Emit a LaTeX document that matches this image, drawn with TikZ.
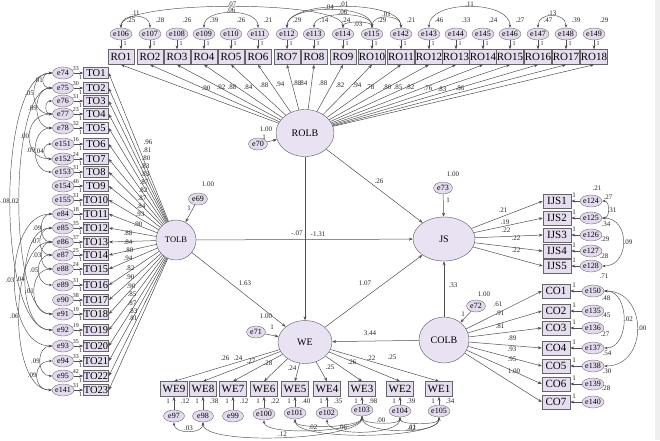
\documentclass[tikz,border=0pt]{standalone}
\usepackage{fontspec}
\setmainfont{Liberation Serif}
\usetikzlibrary{shapes.geometric,arrows.meta}
\definecolor{boxfill}{HTML}{E6DEF0}
\definecolor{errfill}{HTML}{E3DAEE}
\definecolor{latfill}{HTML}{E9E2F2}
\definecolor{lineg}{HTML}{505050}
\definecolor{stripg}{HTML}{EFEFEF}
\newcommand{\mycovL}[4]{\draw[cov] (#1.west) .. controls +(-#3,0) and +(-#3,0) .. (#2.west) node[lbl,pos=0.5,anchor=east]{#4};}
\newcommand{\mycovR}[4]{\draw[cov] (#1.east) .. controls +(#3,0) and +(#3,0) .. (#2.east) node[lbl,pos=0.5,anchor=west]{#4};}
\newcommand{\mycovT}[5][0.5]{\draw[cov] (#2.north) .. controls +(0,-#4) and +(0,-#4) .. (#3.north) node[lbl,pos=#1,anchor=south]{#5};}
\newcommand{\mycovB}[5][0.5]{\draw[cov] (#2.south) .. controls +(0,#4) and +(0,#4) .. (#3.south) node[lbl,pos=#1,anchor=south]{#5};}
\begin{document}
\begin{tikzpicture}[x=1pt,y=-1pt,
 obs/.style={draw=black!60, fill=boxfill, minimum width=26, minimum height=15, inner sep=0.5pt, font=\fontsize{11}{11}\selectfont},
 tobs/.style={obs, minimum height=11, minimum width=25, font=\fontsize{10.5}{10.5}\selectfont},
 err/.style={ellipse, draw=black!55, fill=errfill, minimum width=21, minimum height=12, inner sep=0pt, font=\fontsize{8}{8}\selectfont},
 lat/.style={ellipse, draw=black!65, fill=latfill, inner sep=0pt, font=\fontsize{10}{10}\selectfont},
 arr/.style={draw=lineg, line width=0.5pt, -{Stealth[length=4pt,width=3pt]}},
 cov/.style={draw=lineg, line width=0.45pt, {Stealth[length=3.5pt,width=2.6pt]}-{Stealth[length=3.5pt,width=2.6pt]}},
 lbl/.style={font=\fontsize{7}{7}\selectfont, inner sep=0.3pt, text=black!85},
 slbl/.style={font=\fontsize{6}{6}\selectfont, inner sep=0.2pt, text=black!85},
]
\fill[white] (0,0) rectangle (660,440);
\fill[stripg] (655,0) rectangle (660,440);
\useasboundingbox (0,0) rectangle (660,440);

% latent variables
\node[lat,minimum width=58,minimum height=47] (rolb) at (305,133) {ROLB};
\node[lat,minimum width=40,minimum height=40,font=\fontsize{8.5}{8.5}\selectfont] (tolb) at (176,240) {TOLB};
\node[lat,minimum width=62,minimum height=44] (js) at (444,239) {JS};
\node[lat,minimum width=50,minimum height=46] (colb) at (444,340) {COLB};
\node[lat,minimum width=54,minimum height=43] (we) at (305,342) {WE};

% disturbances of latents
\node[err,minimum width=19] (e70) at (258,144) {e70};
\draw[arr] (e70) -- (rolb);
\node[lbl] at (266,129) {1.00}; \node[lbl] at (264,137) {1};
\node[err,minimum width=19] (e69) at (198,199) {e69};
\draw[arr] (e69) -- (tolb);
\node[lbl] at (208,184) {1.00}; \node[lbl] at (189,208) {1};
\node[err,minimum width=19] (e73) at (443,188) {e73};
\draw[arr] (e73) -- (js);
\node[lbl] at (453,174) {1.00}; \node[lbl] at (448,200) {1};
\node[err,minimum width=19] (e72) at (476,306) {e72};
\draw[arr] (e72) -- (colb);
\node[lbl] at (484,294) {1.00}; \node[lbl] at (463,314) {1};
\node[err,minimum width=19] (e71) at (256,332) {e71};
\draw[arr] (e71) -- (we);
\node[lbl] at (266,316) {1.00}; \node[lbl] at (272,327) {1};

% structural paths
\draw[arr] (rolb) -- (we);
\draw[arr] (rolb) -- (js);
\draw[arr] (tolb) -- (js);
\draw[arr] (tolb) -- (we);
\draw[arr] (we) -- (js);
\draw[arr] (colb) -- (js);
\draw[arr] (colb) -- (we);
\node[lbl] at (297,233) {-.07};
\node[lbl] at (318,234) {-1.31};
\node[lbl] at (379,181) {.26};
\node[lbl] at (245,283) {1.63};
\node[lbl] at (365,283) {1.07};
\node[lbl] at (453,285) {.33};
\node[lbl] at (370,333) {3.44};

% ROLB indicators
\foreach \x/\n/\e/\v in {121/1/106/.25,150/2/107/.28,177/3/108/.26,204/4/109/.39,231/5/110/.26,258/6/111/.21,287/7/112/.29,314/8/113/.14,343/9/114/.24,372/10/115/.29,401/11/142/.21,429/12/143/.46,456/13/144/.33,483/14/145/.24,510/15/146/.27,538/16/147/.47,566/17/148/.39,594/18/149/.29}{
  \node[obs] (ro\n) at (\x,57) {RO\n};
  \node[err] (e\e) at (\x,34) {e\e};
  \draw[arr] (e\e) -- (ro\n);
  \node[slbl] at (\x+4,44) {1};
  \draw[arr] (rolb) -- (ro\n.south);
}
\foreach \x/\v in {131/.25,160/.28,187/.26,214/.39,241/.26,268/.21,297/.29,324/.14,346/.24,382/.29,411/.21,439/.46,466/.33,493/.24,520/.27,548/.47,576/.39,604/.29}
  \node[lbl] at (\x,20) {\v};
\foreach \x/\y/\v in {206/88/.90,221/87/.92,232/87/.88,248/87/.84,264/85/.88,280/84/.94,297/83/.88,303/83/.84,323/83/.88,340/85/.82,357/85/.94,370/87/.78,387/87/.80,398/87/.85,410/87/.82,428/88/.76,442/89/.83,460/88/.86}
  \node[lbl] at (\x,\y) {\v};
\mycovT{e106}{e107}{15}{.11}
\mycovT{e106}{e114}{28}{.07}
\mycovT{e109}{e111}{20}{.06}
\mycovT{e112}{e115}{24}{.04}
\mycovT{e112}{e142}{28}{.01}
\mycovT{e113}{e115}{17}{.06}
\mycovT{e114}{e115}{7}{}
\node[lbl] at (358,24) {.03};
\mycovT{e115}{e142}{14}{.01}
\mycovT{e143}{e146}{28}{.11}
\mycovT{e147}{e148}{16}{.13}

% TOLB indicators
\foreach \y/\n/\e/\v in {73/1/74/.33,88/2/75/.30,101/3/76/.31,114/4/77/.23,128/5/78/.32,144/6/151/.16,159/7/152/.24,172/8/153/.31,186/9/154/.46,200/10/155/.31,214/11/84/.18,228/12/85/.35,242/13/86/.37,255/14/87/.25,269/15/88/.24,285/16/89/.31,300/17/90/.38,314/18/91/.19,330/19/92/.19,346/20/93/.35,361/21/94/.33,376/22/95/.42,390/23/141/.31}{
  \node[tobs] (to\n) at (96,\y) {TO\n};
  \node[err] (e\e) at (63,\y) {e\e};
  \draw[arr] (e\e) -- (to\n);
  \node[slbl] at (80.5,\y+5) {1};
  \node[slbl] at (75,\y-4.5) {\v};
  \draw[arr] (tolb) -- (to\n.east);
}
\foreach \x/\y/\v in {148/142/.96,147/150/.81,146/158/.80,145/166/.83,145/174/.83,144/182/.87,143/190/.82,142/198/.87,141/206/.84,140/214/.93,138/224/.90,128/233/.88,128/242/.84,129/250/.88,128/258/.94,130/268/.82,130/277/.90,131/286/.90,132/294/.85,132/303/.87,133/311/.83,133/318/.81}
  \node[lbl] at (\x,\y) {\v};
\mycovL{e74}{e75}{12}{.01}
\mycovL{e74}{e77}{24}{.05}
\mycovL{e75}{e78}{20}{.09}
\mycovL{e76}{e77}{8}{}
\mycovL{e74}{e92}{56}{-.08}
\mycovL{e75}{e91}{44}{.02}
\mycovL{e77}{e152}{30}{.00}
\mycovL{e78}{e153}{22}{.09}
\mycovL{e151}{e152}{10}{.04}
\mycovL{e84}{e86}{14}{.09}
\mycovL{e85}{e87}{16}{.07}
\mycovL{e86}{e88}{14}{.03}
\mycovL{e87}{e89}{18}{.05}
\mycovL{e85}{e92}{36}{.04}
\mycovL{e84}{e93}{50}{.03}
\mycovL{e88}{e91}{24}{.01}
\mycovL{e86}{e141}{44}{.06}
\mycovL{e93}{e95}{16}{.09}
\mycovL{e94}{e141}{20}{.09}

% JS indicators
\foreach \y/\n/\e in {201/1/124,218/2/125,235/3/126,251/4/127,266/5/128}{
  \node[obs,minimum width=28,minimum height=14] (ijs\n) at (557,\y) {IJS\n};
  \node[err,minimum width=20] (e\e) at (591,\y) {e\e};
  \draw[arr] (e\e) -- (ijs\n);
  \node[lbl] at (574,\y-6) {1};
  \draw[arr] (js) -- (ijs\n.west);
}
\foreach \x/\y/\v in {503/210/.21,505/222/.19,506/230/.22,516/238/.22,516/250/.22}
  \node[lbl] at (\x,\y) {\v};
\foreach \x/\y/\v in {597/188/.21,608/197/.27,612/210/.31,606/224/.34,605/239/.29,604/256/.28,604/276/.71}
  \node[lbl] at (\x,\y) {\v};
\mycovR{e124}{e125}{8}{}
\mycovR{e125}{e128}{28}{.09}

% COLB indicators
\foreach \y/\n/\e in {291/1/150,311/2/135,328/3/136,348/4/137,366/5/138,384/6/139,402/7/140}{
  \node[obs,minimum width=28,minimum height=14] (co\n) at (556,\y) {CO\n};
  \node[err,minimum width=21] (e\e) at (593,\y) {e\e};
  \draw[arr] (e\e) -- (co\n);
  \node[lbl] at (574,\y-6) {1};
  \draw[arr] (colb) -- (co\n.west);
}
\foreach \x/\y/\v in {498/304/.61,500/313/.91,500/326/.81,512/338/.89,512/349/.93,512/359/.95,514/371/1.00}
  \node[lbl] at (\x,\y) {\v};
\foreach \x/\y/\v in {606/298/.48,606/315/.45,605/334/.27,607/353/.54,607/371/.30,606/388/.28}
  \node[lbl] at (\x,\y) {\v};
\mycovR{e150}{e137}{26}{.02}
\mycovR{e150}{e138}{44}{.00}

% WE indicators
\foreach \x/\n/\e/\ey/\v in {174/9/97/416/.12,203/8/98/416/.38,233/7/99/416/.12,264/6/100/414/.22,295/5/101/413/.40,327/4/102/413/.35,362/3/103/410/.98,400/2/104/411/.39,439/1/105/411/.34}{
  \node[obs,minimum width=27,minimum height=15] (we\n) at (\x,389) {WE\n};
  \node[err] (e\e) at (\x,\ey) {e\e};
  \draw[arr] (e\e) -- (we\n);
  \node[lbl] at (\x-6,401) {1};
  \node[lbl] at (\x+11,401) {\v};
  \draw[arr] (we) -- (we\n.north);
}
\foreach \x/\y/\v in {225/358/.26,238/358/.24,251/361/.27,268/363/.28,292/368/.24,330/367/.25,352/362/.26,371/358/.22,392/357/.25}
  \node[lbl] at (\x,\y) {\v};
\mycovB{e97}{e98}{12}{.03}
\mycovB{e98}{e103}{24}{.12}
\mycovB{e100}{e103}{16}{.02}
\mycovB{e101}{e103}{11}{}
\mycovB[0.3]{e102}{e104}{18}{.06}
\mycovB{e103}{e104}{8}{.00}
\mycovB[0.6]{e103}{e105}{18}{.11}
\mycovB{e104}{e105}{8}{}
\mycovB[0.72]{e101}{e105}{22}{.02}
\end{tikzpicture}
\end{document}
